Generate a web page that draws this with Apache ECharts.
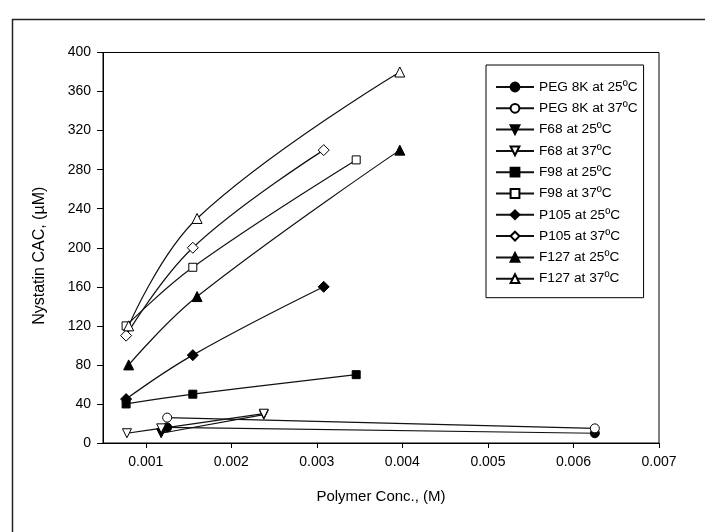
<!DOCTYPE html>
<html>
<head>
<meta charset="utf-8">
<script src="https://cdn.jsdelivr.net/npm/echarts@6/dist/echarts.min.js"></script>
<style>
html,body{margin:0;padding:0;background:#fff;}
#chart{width:705px;height:532px;}
</style>
</head>
<body>
<div id="chart"></div>
<script>
// ---- data ----
const pegX = [0.00125, 0.00625];
const peg25 = [16, 10];
const peg37 = [26, 15];
const f68X25 = [0.00118, 0.00238];
const f68_25 = [10, 29];
const f68X37 = [0.00078, 0.00118, 0.00238];
const f68_37 = [10, 15, 30];
const f98X = [0.00077, 0.00155, 0.00346];
const f98_25 = [40, 50, 70];
const f98_37 = [120, 180, 290];
const p105X = [0.00077, 0.00155, 0.00308];
const p105_25 = [45, 90, 160];
const p105_37 = [110, 200, 300];
const f127X = [0.0008, 0.0016, 0.00397];
const f127_25 = [80, 150, 300];
const f127_37 = [120, 230, 380];
const xTicks = [0.001, 0.002, 0.003, 0.004, 0.005, 0.006, 0.007];
const seriesNames = ['PEG 8K at 25ºC','PEG 8K at 37ºC','F68 at 25ºC','F68 at 37ºC','F98 at 25ºC','F98 at 37ºC','P105 at 25ºC','P105 at 37ºC','F127 at 25ºC','F127 at 37ºC'];

const zip = (xs, ys) => xs.map((x, i) => [x, ys[i]]);
const FONT = 'Liberation Sans, Arial, sans-serif';

function mk(name, xs, ys, symbol, filled, opts) {
  opts = opts || {};
  return {
    name: name,
    type: 'line',
    data: zip(xs, ys),
    smooth: xs.length > 2 ? 0.4 : false,
    symbol: symbol,
    symbolSize: opts.size || 9,
    symbolRotate: opts.rotate || 0,
    showAllSymbol: true,
    lineStyle: { color: '#111', width: 1.2 },
    itemStyle: { color: filled ? '#000' : '#fff', borderColor: '#000', borderWidth: 1, opacity: 1 },
    emphasis: { disabled: true },
    animation: false,
    z: 2
  };
}

const series = [
  mk(seriesNames[0], pegX, peg25, 'circle', true),
  mk(seriesNames[1], pegX, peg37, 'circle', false),
  mk(seriesNames[2], f68X25, f68_25, 'triangle', true, { rotate: 180 }),
  mk(seriesNames[3], f68X37, f68_37, 'triangle', false, { rotate: 180 }),
  mk(seriesNames[4], f98X, f98_25, 'rect', true, { size: 8 }),
  mk(seriesNames[5], f98X, f98_37, 'rect', false, { size: 8 }),
  mk(seriesNames[6], p105X, p105_25, 'diamond', true, { size: 11 }),
  mk(seriesNames[7], p105X, p105_37, 'diamond', false, { size: 11 }),
  mk(seriesNames[8], f127X, f127_25, 'triangle', true, { size: 10 }),
  mk(seriesNames[9], f127X, f127_37, 'triangle', false, { size: 10 })
];

const chart = echarts.init(document.getElementById('chart'), null, { renderer: 'canvas' });
chart.setOption({
  backgroundColor: '#fff',
  animation: false,
  textStyle: { fontFamily: FONT, color: '#000' },
  grid: { left: 103, right: 46, top: 52.5, bottom: 89, show: true, borderColor: '#000', borderWidth: 1, containLabel: false },
  legend: {
    orient: 'vertical',
    left: 486,
    top: 65,
    data: seriesNames,
    itemWidth: 38,
    itemHeight: 11,
    itemGap: 7.3,
    padding: [15, 6, 12, 9],
    borderColor: '#000',
    borderWidth: 1,
    selectedMode: false,
    textStyle: { fontFamily: FONT, fontSize: 13.7, color: '#000' }
  },
  xAxis: {
    type: 'value',
    min: 0.0005,
    max: 0.007,
    name: 'Polymer Conc., (M)',
    nameLocation: 'middle',
    nameGap: 46,
    nameTextStyle: { fontFamily: FONT, fontSize: 15, color: '#000' },
    axisLine: { show: true, onZero: false, lineStyle: { color: '#000', width: 1 } },
    axisTick: { show: true, inside: false, length: 5, customValues: xTicks, lineStyle: { color: '#000' } },
    axisLabel: { customValues: xTicks, fontFamily: FONT, fontSize: 14, color: '#000', margin: 12,
      formatter: v => v.toFixed(3) },
    splitLine: { show: false }
  },
  yAxis: {
    type: 'value',
    min: 0,
    max: 400,
    interval: 40,
    name: 'Nystatin CAC, (µM)',
    nameLocation: 'middle',
    nameGap: 55,
    nameTextStyle: { fontFamily: FONT, fontSize: 16, color: '#000', padding: [0, 16, 0, 0] },
    axisLine: { show: true, lineStyle: { color: '#000', width: 1 } },
    axisTick: { show: true, inside: false, length: 6, lineStyle: { color: '#000' } },
    axisLabel: { fontFamily: FONT, fontSize: 14, color: '#000', margin: 12 },
    splitLine: { show: false }
  },
  graphic: [
    { type: 'rect', left: 10, top: 17, shape: { width: 800, height: 800 }, silent: true,
      style: { fill: 'none', stroke: '#222', lineWidth: 1.5 } }
  ],
  series: series
});
</script>
</body>
</html>
